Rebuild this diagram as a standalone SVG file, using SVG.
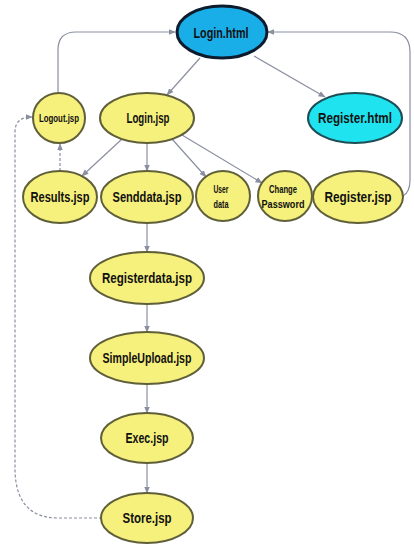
<svg xmlns="http://www.w3.org/2000/svg" width="414" height="551" viewBox="0 0 414 551">
<style>
.n{fill:#f6f07c;stroke:#5f5f3a;stroke-width:2}
.b{fill:#1aaee8;stroke:#0c1c2c;stroke-width:3}
.c{fill:#1fe3ee;stroke:#1d4d55;stroke-width:2}
text{font-family:"Liberation Sans",Arial,sans-serif;font-weight:bold;fill:#111;text-anchor:middle}
.t{font-size:15px}
.s{font-size:11px}
.e{fill:none;stroke:#8a8fa0;stroke-width:1.2}
.d{fill:none;stroke:#8a8fa0;stroke-width:1.2;stroke-dasharray:3,2}
</style>
<defs>
<marker id="a" viewBox="0 0 10 10" refX="9" refY="5" markerWidth="6" markerHeight="6" orient="auto"><path d="M0,1 L10,5 L0,9 z" fill="#8a8fa0"/></marker>
</defs>
<rect width="414" height="551" fill="#fff"/>
<g id="connectors">
<path class="e" d="M58,92 V50 Q58,32 76,32 H175" marker-end="url(#a)"/>
<path class="e" d="M403,196 Q410,192 410,180 V52 Q410,32 390,32 H268" marker-end="url(#a)"/>
<path class="e" d="M200,58 L167,95" marker-end="url(#a)"/>
<path class="e" d="M254,56 L325,97" marker-end="url(#a)"/>
<path class="e" d="M122,139 L82,176" marker-end="url(#a)"/>
<path class="e" d="M147,143 V171" marker-end="url(#a)"/>
<path class="e" d="M172,139 L206,177" marker-end="url(#a)"/>
<path class="e" d="M182,135 L262,183" marker-end="url(#a)"/>
<path class="d" d="M60,171 V144" marker-end="url(#a)"/>
<path class="e" d="M147,223 V252" marker-end="url(#a)"/>
<path class="e" d="M147,304 V332" marker-end="url(#a)"/>
<path class="e" d="M147,384 V413" marker-end="url(#a)"/>
<path class="e" d="M147,463 V493" marker-end="url(#a)"/>
<path class="d" d="M102,518 H58 Q16,518 15,470 V132 Q15,117 32,117" marker-end="url(#a)"/>
</g>
<g id="login-html"><ellipse class="b" cx="222" cy="32" rx="45" ry="26"/><text class="t" x="221" y="38" textLength="55" lengthAdjust="spacingAndGlyphs">Login.html</text></g>
<g id="logout-jsp"><ellipse class="n" cx="59" cy="118" rx="26" ry="25"/><text class="s" x="59" y="122" textLength="40" lengthAdjust="spacingAndGlyphs">Logout.jsp</text></g>
<g id="login-jsp"><ellipse class="n" cx="147" cy="118" rx="47" ry="25"/><text class="t" x="148" y="123" textLength="43" lengthAdjust="spacingAndGlyphs">Login.jsp</text></g>
<g id="register-html"><ellipse class="c" cx="355" cy="118" rx="47" ry="25"/><text class="t" x="355" y="123" textLength="74" lengthAdjust="spacingAndGlyphs">Register.html</text></g>
<g id="results-jsp"><ellipse class="n" cx="60" cy="197" rx="37" ry="26"/><text class="t" x="60" y="202" textLength="59" lengthAdjust="spacingAndGlyphs">Results.jsp</text></g>
<g id="senddata-jsp"><ellipse class="n" cx="147" cy="197" rx="46" ry="26"/><text class="t" x="147" y="202" textLength="69" lengthAdjust="spacingAndGlyphs">Senddata.jsp</text></g>
<g id="user-data"><ellipse class="n" cx="223" cy="196" rx="27" ry="25"/><text class="s" x="221" y="193" textLength="15" lengthAdjust="spacingAndGlyphs">User</text><text class="s" x="221" y="208" textLength="15" lengthAdjust="spacingAndGlyphs">data</text></g>
<g id="change-password"><ellipse class="n" cx="285" cy="196" rx="27" ry="25"/><text class="s" x="283" y="193" textLength="28" lengthAdjust="spacingAndGlyphs">Change</text><text class="s" x="283" y="208" textLength="43" lengthAdjust="spacingAndGlyphs">Password</text></g>
<g id="register-jsp"><ellipse class="n" cx="358" cy="197" rx="45" ry="26"/><text class="t" x="358" y="202" textLength="67" lengthAdjust="spacingAndGlyphs">Register.jsp</text></g>
<g id="registerdata-jsp"><ellipse class="n" cx="147" cy="278" rx="57" ry="26"/><text class="t" x="147" y="283" textLength="90" lengthAdjust="spacingAndGlyphs">Registerdata.jsp</text></g>
<g id="simpleupload-jsp"><ellipse class="n" cx="147" cy="358" rx="57" ry="26"/><text class="t" x="147" y="363" textLength="89" lengthAdjust="spacingAndGlyphs">SimpleUpload.jsp</text></g>
<g id="exec-jsp"><ellipse class="n" cx="147" cy="438" rx="46" ry="25"/><text class="t" x="147" y="443" textLength="43" lengthAdjust="spacingAndGlyphs">Exec.jsp</text></g>
<g id="store-jsp"><ellipse class="n" cx="147" cy="518" rx="46" ry="25"/><text class="t" x="147" y="523" textLength="49" lengthAdjust="spacingAndGlyphs">Store.jsp</text></g>
</svg>
